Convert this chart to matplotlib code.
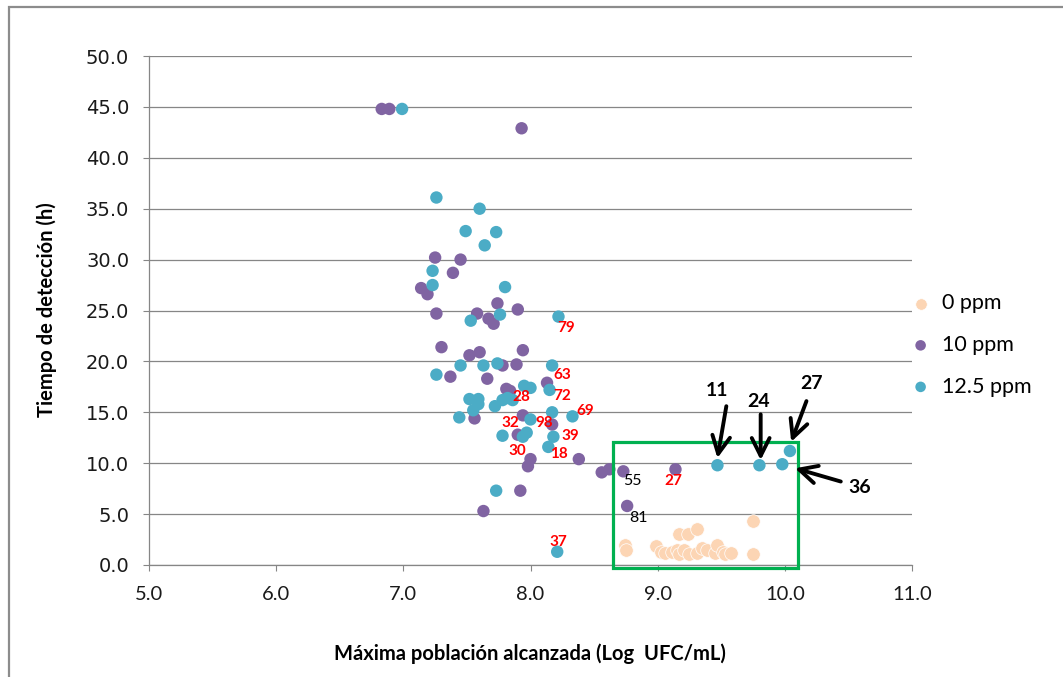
import matplotlib
matplotlib.use("Agg")
import matplotlib.pyplot as plt
from matplotlib.patches import Rectangle

plt.rcParams['font.family'] = ['Lato', 'DejaVu Sans']

# 0 ppm
x0 = [8.74, 8.75, 8.99, 9.03, 9.06, 9.11, 9.15, 9.17, 9.21, 9.25, 9.31, 9.35,
      9.39, 9.45, 9.47, 9.51, 9.53, 9.58, 9.17, 9.24, 9.31, 9.75, 9.75]
y0 = [2.0, 1.5, 1.9, 1.3, 1.2, 1.3, 1.5, 1.1, 1.5, 1.1, 1.2, 1.7,
      1.5, 1.2, 2.0, 1.3, 1.1, 1.2, 3.0, 3.0, 3.5, 4.3, 1.1]

# 10 ppm
x10 = [6.83, 6.89, 7.93, 7.25, 7.45, 7.39, 7.14, 7.19, 7.74, 7.90,
       7.26, 7.58, 7.67, 7.71, 7.30, 7.52, 7.60, 7.94, 7.78, 7.89,
       7.37, 7.66, 8.13, 7.81, 7.84, 7.94, 7.56, 8.17, 7.90, 8.00,
       7.98, 8.38, 8.56, 8.62, 8.73, 9.14, 8.76, 7.92, 7.63]
y10 = [44.8, 44.8, 42.9, 30.2, 30.0, 28.7, 27.2, 26.6, 25.7, 25.1,
       24.7, 24.7, 24.2, 23.7, 21.4, 20.6, 20.9, 21.1, 19.6, 19.7,
       18.5, 18.3, 17.9, 17.3, 17.1, 14.7, 14.4, 13.8, 12.8, 10.4,
       9.7, 10.4, 9.1, 9.4, 9.2, 9.4, 5.8, 7.3, 5.3]

# 12.5 ppm
x125 = [6.99, 7.26, 7.60, 7.49, 7.73, 7.64, 7.23, 7.23, 7.80, 7.76,
        8.22, 7.53, 7.45, 7.63, 7.74, 8.17, 7.26, 7.95, 8.00, 8.15,
        7.52, 7.59, 7.59, 7.72, 7.78, 7.82, 7.86, 7.55, 7.44, 8.00,
        8.17, 8.33, 7.78, 7.94, 7.97, 8.18, 8.14, 7.73, 8.21, 9.47,
        9.80, 9.98, 10.04]
y125 = [44.8, 36.1, 35.0, 32.8, 32.7, 31.4, 28.9, 27.5, 27.3, 24.6,
        24.4, 24.0, 19.6, 19.6, 19.8, 19.6, 18.7, 17.6, 17.4, 17.2,
        16.3, 16.3, 15.8, 15.6, 16.2, 16.4, 16.2, 15.2, 14.5, 14.3,
        15.0, 14.6, 12.7, 12.6, 13.0, 12.6, 11.6, 7.3, 1.3, 9.8,
        9.8, 9.9, 11.2]

# etiquetas de cepas
red_txt = ["79", "63", "28", "72", "69", "32", "98", "39", "30", "18", "27", "37"]
red_x = [8.28, 8.25, 7.93, 8.25, 8.43, 7.84, 8.11, 8.31, 7.90, 8.22, 9.12, 8.22]
red_y = [23.3, 18.7, 16.5, 16.6, 15.1, 13.9, 13.9, 12.7, 11.2, 10.9, 8.3, 2.3]
blk_txt = ["55", "81"]
blk_x = [8.80, 8.85]
blk_y = [8.3, 4.6]

# flechas: texto, punta, cola, posición del texto
arr_txt = ["11", "24", "27", "36"]
arr_tip = [(9.47, 10.5), (9.81, 10.3), (10.05, 12.1), (10.08, 9.5)]
arr_tail = [(9.54, 15.6), (9.81, 14.8), (10.17, 16.1), (10.44, 8.2)]
arr_lab = [(9.47, 17.1), (9.79, 16.1), (10.21, 17.8), (10.59, 7.6)]

grey = "#868686"

fig = plt.figure(figsize=(10.63, 6.77), dpi=100)
ax = fig.add_axes([149 / 1063, 112 / 677, 763 / 1063, 509 / 677])

ax.scatter(x0, y0, s=95, color="#FCD5B4", edgecolors="white", linewidths=0.5,
           label="0 ppm", zorder=3)
ax.scatter(x10, y10, s=80, color="#8064A2", edgecolors="none",
           label="10 ppm", zorder=3)
ax.scatter(x125, y125, s=80, color="#4BACC6", edgecolors="none",
           label="12.5 ppm", zorder=3)

for t, x, y in zip(red_txt, red_x, red_y):
    ax.text(x, y, t, color="red", fontsize=11, fontweight="bold",
            ha="center", va="center", zorder=4)
for t, x, y in zip(blk_txt, blk_x, blk_y):
    ax.text(x, y, t, color="black", fontsize=11.5, ha="center", va="center", zorder=4)

for t, tip, tail, lab in zip(arr_txt, arr_tip, arr_tail, arr_lab):
    ax.annotate("", xy=tip, xytext=tail,
                arrowprops=dict(arrowstyle="->", lw=2.8, color="black",
                                mutation_scale=32, shrinkA=0, shrinkB=0),
                annotation_clip=False, zorder=5)
    ax.text(lab[0], lab[1], t, fontsize=14, fontweight="bold",
            ha="center", va="center", zorder=5)

# recuadro verde
ax.add_patch(Rectangle((8.65, -0.3), 1.45, 12.4, fill=False, edgecolor="#00B050",
                       lw=2.3, clip_on=False, zorder=4))

ax.set_xlim(5, 11)
ax.set_ylim(0, 50)
ax.set_xticks([5, 6, 7, 8, 9, 10, 11])
ax.set_yticks(range(0, 51, 5))
ax.set_xticklabels([f"{v:.1f}" for v in range(5, 12)], fontsize=14.5,
                   color="#1a1a1a")
ax.set_yticklabels([f"{v:.1f}" for v in range(0, 51, 5)], fontsize=14,
                   family="DejaVu Sans", color="#1a1a1a")
ax.tick_params(axis="both", length=4.3, width=0.8, color=grey)
ax.tick_params(axis="y", pad=10)
ax.tick_params(axis="x", pad=11)
ax.yaxis.grid(True, color=grey, lw=0.9)
ax.set_axisbelow(True)
for s in ["top", "right"]:
    ax.spines[s].set_visible(False)
for s in ["left", "bottom"]:
    ax.spines[s].set_color(grey)
    ax.spines[s].set_linewidth(0.9)

ax.set_xlabel("Máxima población alcanzada (Log  UFC/mL)", fontsize=14.5,
              fontweight="bold")
ax.set_ylabel("Tiempo de detección (h)", fontsize=14.5, fontweight="bold")
ax.xaxis.set_label_coords(0.499, -0.155)
ax.yaxis.set_label_coords(-0.12, 0.501)

ax.legend(loc="center left", bbox_to_anchor=(912 / 1063, 1 - 345 / 677),
          bbox_transform=fig.transFigure, frameon=False, fontsize=15.5,
          borderpad=0, borderaxespad=0, handlelength=0.8, handletextpad=0.6,
          labelspacing=1.0, markerscale=0.85)

# marco exterior
fig.patches.append(Rectangle((9 / 1063, -0.2), 1.2, 1.2 - 7 / 677, fill=False,
                             edgecolor="#8C8C8C", lw=1.6,
                             transform=fig.transFigure, figure=fig))

fig.savefig("out.png", dpi=100)
